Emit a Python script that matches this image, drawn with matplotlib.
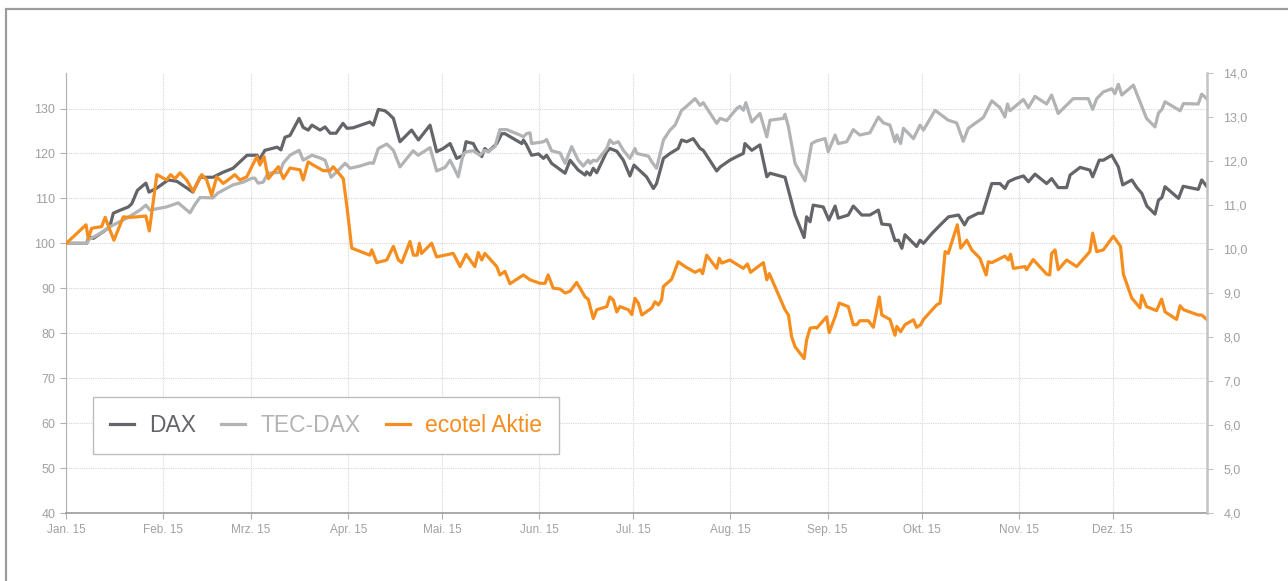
import matplotlib
matplotlib.use("Agg")
import matplotlib.pyplot as plt
from matplotlib.patches import Rectangle

plt.rcParams['font.family'] = ['Liberation Sans', 'DejaVu Sans']

# day of year 2015 (0 = 1 Jan), index 100 = start
dax_day = [0, 6.5, 7.3, 8.6, 11.8, 13.9, 15.0, 16.6, 19.8, 20.9,
           22.7, 25.4, 26.4, 28.9, 32.5, 35.3, 40.4, 42.7, 46.8, 50.0,
           53.2, 57.7, 60.9, 61.5, 63.4, 67.3, 68.5, 69.8, 71.4, 74.3,
           75.6, 77.2, 78.4, 81.0, 82.6, 84.2, 86.1, 88.3, 89.6, 91.5,
           96.9, 98.0, 99.6, 101.7, 102.8, 104.4, 106.5, 110.2, 112.4, 116.1,
           118.2, 120.3, 122.5, 124.6, 126.7, 127.6, 129.9, 131.0, 132.6, 133.6,
           134.7, 137.4, 139.0, 140.0, 145.4, 145.9, 146.9, 148.5, 150.7, 152.3,
           153.3, 154.9, 159.2, 160.8, 163.4, 165.6, 166.1, 167.2, 168.2, 169.3,
           172.5, 173.5, 175.7, 177.8, 179.9, 181.2, 185.2, 187.4, 188.4, 190.6,
           192.7, 195.3, 196.4, 198.0, 200.1, 202.3, 203.3, 207.6, 208.7, 211.8,
           214.0, 216.1, 216.6, 218.8, 221.4, 223.6, 224.6, 229.4, 232.6, 235.5,
           236.3, 237.4, 238.4, 241.6, 243.4, 245.4, 246.4, 249.6, 251.2, 253.9,
           256.5, 259.2, 260.3, 262.9, 264.5, 265.6, 266.7, 267.7, 271.4, 272.5,
           273.6, 276.3, 279.4, 281.6, 284.8, 286.7, 287.9, 291.1, 292.5, 295.4,
           298.0, 299.6, 300.7, 302.8, 305.5, 307.1, 309.2, 312.9, 314.5, 316.6,
           319.3, 320.4, 323.6, 326.7, 327.6, 329.7, 331.0, 333.7, 335.8, 337.2,
           340.1, 341.7, 343.3, 344.9, 347.5, 348.6, 349.7, 350.7, 355.0, 356.5,
           361.3, 362.4, 364.0]
dax_val = [100, 100, 101.5, 101.1, 102.6, 103.7, 106.7, 107.2, 108.1, 108.8,
           111.8, 113.4, 111.4, 112.3, 114.1, 113.8, 111.4, 114.7, 114.7, 115.8,
           116.7, 119.6, 119.6, 118.5, 120.7, 121.4, 120.8, 123.6, 124.0, 127.8,
           125.8, 125.2, 126.3, 125.2, 125.9, 124.5, 124.5, 126.7, 125.6, 125.7,
           127.0, 126.3, 129.8, 129.5, 128.9, 127.8, 122.6, 125.2, 123.0, 126.3,
           120.4, 121.1, 122.2, 118.9, 119.6, 122.6, 122.2, 120.7, 119.3, 121.1,
           120.4, 122.2, 124.4, 124.4, 122.2, 123.0, 121.9, 119.6, 119.9, 118.9,
           119.6, 117.8, 115.6, 118.5, 116.3, 115.2, 115.9, 115.2, 116.7, 115.7,
           120.4, 121.1, 120.5, 118.5, 115.0, 117.4, 114.8, 112.2, 113.3, 118.9,
           120.0, 121.1, 123.0, 122.6, 123.3, 121.1, 120.7, 116.1, 117.0, 118.5,
           119.3, 120.0, 122.2, 120.7, 121.9, 114.8, 115.6, 114.7, 106.3, 101.3,
           105.9, 104.8, 108.5, 108.1, 105.2, 108.3, 105.6, 106.3, 108.3, 106.3,
           106.3, 107.4, 104.3, 104.1, 100.6, 100.7, 98.9, 101.9, 99.3, 100.7,
           100.0, 102.2, 104.4, 105.9, 106.3, 104.1, 105.6, 106.7, 106.7, 113.3,
           113.3, 112.2, 113.7, 114.4, 115.0, 113.7, 115.4, 113.3, 114.4, 112.4,
           112.4, 115.2, 116.9, 116.3, 114.8, 118.5, 118.5, 119.6, 117.0, 113.0,
           114.1, 112.4, 111.1, 108.3, 106.5, 109.6, 110.2, 112.6, 110.0, 112.7,
           112.0, 114.1, 112.7]

tec_day = [0, 6.5, 7.3, 10.8, 13.9, 19.3, 23.5, 25.4, 26.7, 32.0,
           35.7, 39.5, 41.1, 42.7, 46.8, 48.4, 50.0, 53.2, 56.4, 59.3,
           60.2, 61.2, 62.8, 64.4, 68.2, 69.2, 71.4, 74.3, 75.6, 78.4,
           81.0, 82.6, 84.5, 86.3, 89.0, 90.6, 93.7, 96.9, 98.0, 99.6,
           102.3, 104.4, 106.5, 109.2, 110.7, 112.3, 116.1, 118.2, 120.9, 122.5,
           124.1, 125.1, 126.7, 127.8, 129.9, 132.0, 133.6, 134.7, 136.8, 138.4,
           140.6, 144.8, 145.9, 146.9, 148.0, 148.5, 152.3, 153.3, 154.9, 157.6,
           159.2, 161.3, 163.4, 165.0, 166.6, 167.2, 168.2, 169.3, 172.5, 173.5,
           174.6, 176.2, 177.8, 179.9, 181.5, 182.1, 185.8, 186.9, 188.4, 190.6,
           192.7, 194.3, 196.4, 197.5, 200.7, 202.3, 203.3, 207.6, 208.7, 210.8,
           214.0, 215.0, 216.1, 216.9, 218.8, 221.4, 223.6, 224.6, 228.9, 229.4,
           230.5, 232.6, 235.8, 237.9, 239.5, 242.2, 243.2, 245.4, 246.4, 249.1,
           251.2, 253.3, 256.5, 259.2, 260.8, 262.9, 264.5, 265.1, 266.3, 267.2,
           270.4, 272.5, 273.6, 277.3, 281.5, 284.2, 286.3, 287.9, 292.7, 295.4,
           298.0, 299.6, 300.4, 301.2, 305.5, 307.1, 309.2, 312.9, 314.5, 316.6,
           321.4, 326.2, 327.6, 328.9, 331.0, 333.7, 334.7, 335.8, 336.9, 340.6,
           344.8, 347.5, 348.6, 349.7, 350.7, 355.5, 356.6, 361.3, 362.4, 364.0]
tec_val = [100, 100, 100.9, 102.2, 103.7, 105.6, 107.4, 108.5, 107.4, 108.1,
           109.0, 106.8, 108.7, 110.2, 110.1, 111.2, 111.8, 113.0, 113.6, 114.5,
           114.5, 113.4, 113.6, 115.6, 115.8, 117.8, 119.6, 120.7, 118.5, 119.6,
           119.0, 118.5, 114.7, 115.9, 117.8, 116.7, 117.2, 117.9, 117.8, 121.1,
           122.1, 120.7, 117.0, 119.3, 120.6, 119.6, 121.3, 116.1, 116.9, 118.5,
           116.3, 114.8, 119.9, 120.4, 120.6, 119.6, 120.7, 120.4, 121.5, 125.3,
           125.3, 124.1, 123.7, 124.4, 124.6, 122.2, 122.6, 123.1, 120.6, 120.1,
           117.8, 121.5, 118.5, 117.2, 118.5, 117.8, 118.5, 118.3, 121.1, 123.0,
           122.2, 122.6, 120.7, 118.9, 121.1, 120.0, 119.4, 118.1, 116.7, 123.0,
           125.2, 126.3, 129.6, 130.2, 132.2, 130.7, 131.3, 126.7, 127.8, 127.3,
           130.0, 130.5, 129.6, 131.3, 127.0, 128.9, 123.7, 127.4, 127.8, 128.7,
           125.9, 117.8, 113.9, 122.2, 122.8, 123.3, 120.4, 124.1, 122.2, 122.6,
           125.3, 124.1, 124.6, 128.1, 126.8, 126.3, 122.6, 124.1, 122.2, 125.6,
           123.3, 126.3, 125.2, 129.6, 127.4, 126.8, 122.7, 125.6, 128.0, 131.7,
           130.2, 128.1, 131.0, 129.5, 132.0, 130.2, 132.7, 131.0, 133.0, 128.9,
           132.2, 132.2, 129.8, 132.2, 133.7, 134.4, 133.3, 135.4, 133.0, 135.2,
           127.8, 125.9, 129.0, 129.8, 131.5, 129.5, 131.1, 131.0, 133.2, 132.2]

# ecotel share price in EUR (right axis)
eco_day = [0, 6.3, 7.0, 8.1, 11.3, 12.4, 13.7, 15.2, 18.2, 20.3,
           22.5, 25.4, 26.5, 28.9, 32.0, 33.3, 34.7, 36.3, 38.4, 40.5,
           43.2, 44.8, 46.4, 48.0, 50.1, 52.2, 53.8, 55.4, 57.6, 60.8,
           61.8, 63.1, 64.5, 67.7, 69.3, 71.4, 74.6, 75.6, 77.2, 78.8,
           82.0, 84.2, 85.2, 88.4, 89.7, 91.1, 96.9, 97.5, 99.1, 102.3,
           104.4, 106.0, 107.1, 109.7, 110.8, 112.0, 112.7, 113.4, 116.6, 118.2,
           123.5, 125.7, 127.6, 130.4, 131.5, 132.6, 133.6, 137.4, 138.4, 140.0,
           141.6, 145.9, 148.0, 151.2, 152.8, 153.8, 155.4, 157.6, 159.2, 160.8,
           162.9, 165.6, 166.6, 168.2, 169.3, 172.5, 173.5, 174.6, 175.7, 176.7,
           179.4, 180.5, 181.5, 182.6, 183.7, 186.9, 187.9, 189.0, 190.0, 190.6,
           193.2, 195.3, 197.5, 200.7, 202.3, 203.1, 204.4, 206.0, 207.6, 208.4,
           209.2, 211.8, 216.1, 217.4, 218.4, 222.5, 223.6, 224.4, 229.4, 230.5,
           231.5, 232.6, 235.5, 236.3, 237.4, 239.0, 239.5, 242.7, 243.5, 245.4,
           246.7, 249.6, 251.2, 252.3, 253.3, 256.0, 257.6, 259.5, 260.3, 262.9,
           264.5, 265.1, 266.3, 267.7, 270.4, 271.4, 272.7, 273.6, 277.8, 278.9,
           279.4, 280.5, 281.5, 284.4, 285.5, 287.4, 289.0, 291.6, 293.6, 294.3,
           295.4, 299.6, 300.7, 301.4, 302.3, 306.0, 306.5, 308.6, 312.9, 313.9,
           314.5, 315.6, 316.6, 319.3, 322.5, 326.7, 327.6, 328.9, 331.0, 334.2,
           336.5, 337.4, 340.1, 341.1, 342.7, 343.3, 344.8, 348.0, 349.6, 350.7,
           354.4, 355.5, 356.6, 361.3, 362.4, 364.0]
eco_val = [10.13, 10.55, 10.24, 10.47, 10.51, 10.72, 10.47, 10.20, 10.73, 10.72,
           10.73, 10.75, 10.41, 11.69, 11.57, 11.69, 11.60, 11.73, 11.57, 11.31,
           11.69, 11.57, 11.22, 11.64, 11.49, 11.60, 11.69, 11.57, 11.64, 12.10,
           11.91, 12.10, 11.60, 11.87, 11.60, 11.84, 11.80, 11.57, 11.98, 11.91,
           11.78, 11.78, 11.87, 11.60, 10.89, 10.02, 9.86, 9.98, 9.69, 9.75,
           10.06, 9.75, 9.69, 10.17, 9.86, 9.86, 10.13, 9.90, 10.13, 9.82,
           9.90, 9.60, 9.88, 9.60, 9.92, 9.75, 9.90, 9.60, 9.41, 9.49,
           9.21, 9.41, 9.30, 9.22, 9.22, 9.41, 9.11, 9.09, 9.00, 9.04,
           9.24, 8.91, 8.86, 8.42, 8.62, 8.69, 8.91, 8.84, 8.57, 8.69,
           8.62, 8.51, 8.88, 8.77, 8.50, 8.66, 8.80, 8.73, 8.84, 9.15,
           9.31, 9.71, 9.60, 9.47, 9.53, 9.44, 9.86, 9.71, 9.56, 9.79,
           9.68, 9.75, 9.56, 9.66, 9.47, 9.69, 9.30, 9.44, 8.62, 8.50,
           8.01, 7.78, 7.51, 7.93, 8.20, 8.22, 8.20, 8.46, 8.10, 8.46,
           8.77, 8.69, 8.28, 8.28, 8.37, 8.37, 8.22, 8.91, 8.50, 8.40,
           8.04, 8.24, 8.12, 8.28, 8.39, 8.22, 8.28, 8.40, 8.73, 8.77,
           9.07, 9.94, 9.90, 10.55, 10.02, 10.20, 9.98, 9.79, 9.41, 9.71,
           9.69, 9.84, 9.75, 9.88, 9.56, 9.60, 9.53, 9.76, 9.43, 9.41,
           9.90, 9.98, 9.53, 9.75, 9.60, 9.94, 10.36, 9.94, 9.98, 10.29,
           10.06, 9.43, 8.88, 8.80, 8.66, 8.95, 8.69, 8.60, 8.86, 8.57,
           8.40, 8.71, 8.62, 8.50, 8.50, 8.40]

month_days = [0, 31, 59, 90, 120, 151, 181, 212, 243, 273, 304, 334]
month_labels = ['Jan. 15', 'Feb. 15', 'Mrz. 15', 'Apr. 15', 'Mai. 15', 'Jun. 15',
                'Jul. 15', 'Aug. 15', 'Sep. 15', 'Okt. 15', 'Nov. 15', 'Dez. 15']
left_ticks = [40, 50, 60, 70, 80, 90, 100, 110, 120, 130]
right_ticks = [4, 5, 6, 7, 8, 9, 10, 11, 12, 13, 14]

c_dax, c_tec, c_eco = '#646569', '#b2b3b5', '#f68e1f'
c_lab = '#a0a0a0'

fig = plt.figure(figsize=(12.88, 5.81), dpi=100)
ax = fig.add_axes([66.3/1288, 68/581, 1140.4/1288, 440/581])
ax2 = ax.twinx()

l1, = ax.plot(dax_day, dax_val, color=c_dax, lw=2.3, label='DAX')
l2, = ax.plot(tec_day, tec_val, color=c_tec, lw=2.3, label='TEC-DAX')
l3, = ax2.plot(eco_day, eco_val, color=c_eco, lw=2.3, label='ecotel Aktie')

ax.set_xlim(0, 364)
ax.set_ylim(40, 137.9)
ax2.set_ylim(4, 14)

ax.set_xticks(month_days)
ax.set_xticklabels(month_labels)
ax.set_yticks(left_ticks)
ax2.set_yticks(right_ticks)
ax2.set_yticklabels([f'{t:.1f}'.replace('.', ',') for t in right_ticks])

ax.grid(True, color='#d6d6d6', lw=0.8, linestyle=(0, (1, 1)))
ax.set_axisbelow(True)

for a in (ax, ax2):
    a.spines['top'].set_visible(False)
ax.spines['right'].set_visible(False)
ax2.spines['left'].set_visible(False)
ax2.spines['bottom'].set_visible(False)
ax.spines['left'].set_color('#b0b0b0')
ax.spines['bottom'].set_color('#9a9a9a')
ax.spines['bottom'].set_linewidth(1.2)
ax2.spines['right'].set_color('#c4c4c4')
ax2.spines['right'].set_linewidth(1.8)

ax.tick_params(axis='x', colors='#b0b0b0', labelcolor=c_lab, labelsize=8.5, length=4, pad=4)
ax.tick_params(axis='y', colors='#b0b0b0', labelcolor=c_lab, labelsize=9, length=4, pad=4)
ax2.tick_params(axis='y', colors='#c4c4c4', labelcolor=c_lab, labelsize=9, length=4, pad=8)

leg = ax2.legend(handles=[l1, l2, l3], loc='upper left', bbox_to_anchor=(0.0234, 0.2636),
                 borderaxespad=0, ncol=3, fontsize=16.5, frameon=True, fancybox=False,
                 framealpha=1, edgecolor='#bdbdbd', handlelength=1.05, handletextpad=0.65,
                 columnspacing=1.1, borderpad=0.75, labelcolor='linecolor')
leg.get_frame().set_linewidth(1.0)

fig.add_artist(Rectangle((6/1288, -0.05), 1.1, 1.05 - 9.5/581, transform=fig.transFigure,
                         fill=False, edgecolor='#9c9c9c', lw=1.6, clip_on=False))

fig.savefig('out.png', dpi=100)
